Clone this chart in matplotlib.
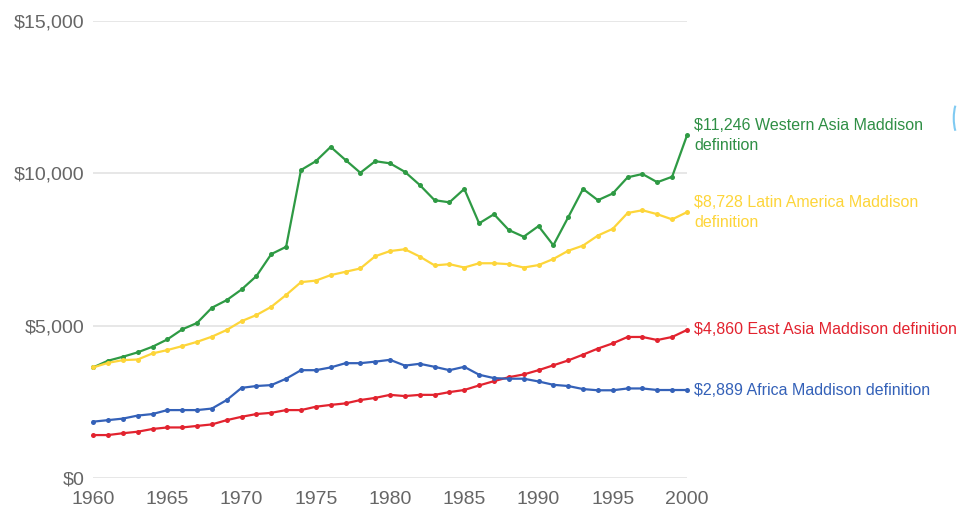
import matplotlib
matplotlib.use("Agg")
import matplotlib.pyplot as plt
from matplotlib.patches import Arc
from matplotlib.ticker import FuncFormatter

years = list(range(1960, 2001))

western_asia = [3630, 3850, 3980, 4125, 4310, 4550, 4880, 5090, 5590, 5840,
                6190, 6630, 7350, 7590, 10110, 10400, 10870, 10440, 10020, 10400,
                10330, 10050, 9620, 9120, 9050, 9490, 8360, 8660, 8140, 7920,
                8270, 7640, 8560, 9490, 9120, 9340, 9870, 9980, 9710, 9890, 11246]

latin_america = [3630, 3780, 3870, 3890, 4090, 4200, 4330, 4470, 4640, 4860,
                 5150, 5350, 5620, 6010, 6430, 6480, 6660, 6770, 6880, 7280,
                 7450, 7510, 7270, 6980, 7020, 6910, 7050, 7050, 7020, 6910,
                 6990, 7190, 7460, 7630, 7960, 8180, 8700, 8790, 8660, 8490, 8728]

east_asia = [1410, 1410, 1470, 1520, 1610, 1660, 1660, 1710, 1760, 1900,
             2010, 2100, 2140, 2230, 2230, 2340, 2400, 2450, 2560, 2630,
             2730, 2690, 2730, 2730, 2820, 2890, 3040, 3180, 3310, 3400,
             3540, 3700, 3860, 4050, 4250, 4420, 4630, 4630, 4530, 4630, 4860]

africa = [1850, 1900, 1950, 2050, 2100, 2230, 2230, 2230, 2280, 2560,
          2960, 3020, 3050, 3260, 3540, 3540, 3630, 3770, 3770, 3820,
          3880, 3690, 3750, 3650, 3540, 3650, 3390, 3280, 3260, 3260,
          3170, 3060, 3020, 2920, 2880, 2880, 2940, 2940, 2889, 2889, 2889]

series_names = ["Western Asia Maddison definition",
                "Latin America Maddison definition",
                "East Asia Maddison definition",
                "Africa Maddison definition"]
label_text = ["$11,246 Western Asia Maddison\ndefinition",
              "$8,728 Latin America Maddison\ndefinition",
              "$4,860 East Asia Maddison definition",
              "$2,889 Africa Maddison definition"]

y_ticks = [0, 5000, 10000, 15000]
x_ticks = [1960, 1965, 1970, 1975, 1980, 1985, 1990, 1995, 2000]

colors = ["#2e9a44", "#fdd53a", "#e2232f", "#3461b8"]
text_colors = ["#2f8f45", "#fdd53a", "#e2232f", "#3461b8"]

plt.rcParams['font.family'] = ['Liberation Sans', 'DejaVu Sans']

fig = plt.figure(figsize=(9.6, 5.14), dpi=100)
ax = fig.add_axes([0.097, 0.07, 0.6186, 0.889])

all_series = [western_asia, latin_america, east_asia, africa]
for vals, c in zip(all_series, colors):
    ax.plot(years, vals, color=c, lw=1.6, marker='o', markersize=3.6,
            markeredgewidth=0, zorder=3, clip_on=False)

for vals, txt, tc in zip(all_series, label_text, text_colors):
    ax.annotate(txt, xy=(years[-1], vals[-1]), xytext=(5, 0),
                textcoords='offset points', va='center', ha='left',
                fontsize=11.5, color=tc, annotation_clip=False, linespacing=1.4)

ax.set_xlim(1960, 2000)
ax.set_ylim(0, 15000)
ax.set_yticks(y_ticks)
ax.set_xticks(x_ticks)
ax.yaxis.set_major_formatter(FuncFormatter(lambda v, p: "${:,.0f}".format(v)))
ax.grid(axis='y', color='#e3e3e3', lw=1.2)
ax.set_axisbelow(True)
for s in ax.spines.values():
    s.set_visible(False)
ax.tick_params(length=0, labelsize=14, labelcolor='#666666')
ax.tick_params(axis='x', pad=9)
ax.tick_params(axis='y', pad=6)

# small light-blue arc fragment at right edge
arc = Arc((0.9995, 0.77), 0.012, 0.07, theta1=100, theta2=260,
          transform=fig.transFigure, color='#7fcaf2', lw=1.5)
fig.add_artist(arc)

fig.savefig("out.png", dpi=100, facecolor='white')
